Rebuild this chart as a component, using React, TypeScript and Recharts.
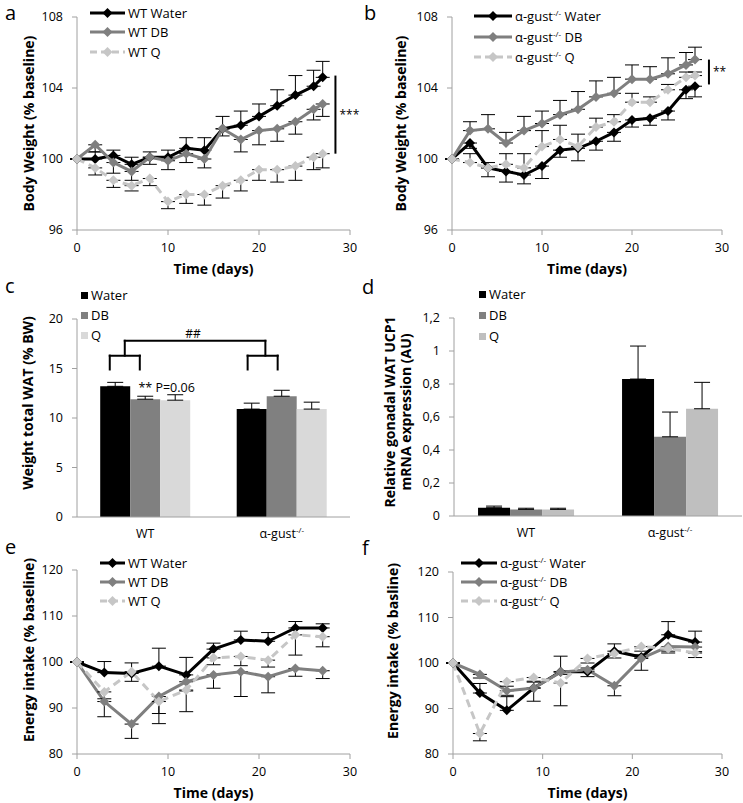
import React from 'react';
import {
  LineChart,
  Line,
  BarChart,
  Bar,
  XAxis,
  YAxis,
  ErrorBar,
  Legend,
  ReferenceLine,
  ReferenceDot,
} from 'recharts';

const FONT = '"Open Sans", "Noto Sans", sans-serif';
const AXIS = '#a0a0a0';
const BLACK = '#000000';
const GREY = '#7f7f7f';
const LIGHT = '#c6c6c6';

// body weight, panels a and b
const bwDays = [0, 2, 4, 6, 8, 10, 12, 14, 16, 18, 20, 22, 24, 26, 27];
const wtWaterBW = [100, 100, 100.2, 99.7, 100.1, 100.1, 100.6, 100.5, 101.7, 101.9, 102.4, 103.0, 103.6, 104.1, 104.6];
const wtWaterBWErr = [0, 0.4, 0.3, 0.4, 0.3, 0.4, 0.6, 0.7, 0.7, 0.8, 0.7, 0.9, 1.1, 0.9, 0.9];
const wtDBBW = [100, 100.8, 99.8, 99.3, 100.1, 99.9, 100.3, 100.0, 101.7, 101.1, 101.6, 101.7, 102.1, 102.8, 103.1];
const wtDBBWErr = [0, 0.4, 0.6, 0.5, 0.4, 0.5, 0.5, 0.5, 0.4, 0.7, 0.8, 0.7, 0.7, 0.6, 0.7];
const wtQBW = [100, 99.5, 98.8, 98.5, 98.9, 97.6, 98.0, 98.0, 98.5, 98.8, 99.4, 99.4, 99.6, 100.1, 100.3];
const wtQBWErr = [0, 0.4, 0.4, 0.3, 0.4, 0.4, 0.5, 0.6, 0.7, 0.6, 0.6, 0.7, 0.8, 0.7, 0.8];

const koWaterBW = [100, 100.9, 99.5, 99.3, 99.1, 99.6, 100.5, 100.6, 101.0, 101.5, 102.2, 102.3, 102.7, 103.9, 104.1];
const koWaterBWErr = [0, 0.3, 0.5, 0.6, 0.5, 0.7, 0.4, 0.7, 0.5, 0.5, 0.4, 0.4, 0.5, 0.5, 0.6];
const koDBBW = [100, 101.6, 101.7, 100.9, 101.6, 102.0, 102.5, 102.8, 103.5, 103.7, 104.5, 104.5, 104.8, 105.3, 105.6];
const koDBBWErr = [0, 0.5, 0.8, 0.6, 0.8, 0.7, 0.8, 1.0, 0.9, 0.9, 0.8, 0.7, 0.9, 0.7, 0.7];
const koQBW = [100, 99.8, 99.5, 99.7, 99.5, 100.7, 101.1, 100.7, 101.8, 102.1, 103.2, 103.2, 103.9, 104.6, 104.7];
const koQBWErr = [0, 0.5, 0.3, 0.6, 0.8, 0.9, 0.8, 0.7, 0.5, 0.4, 0.5, 0.3, 0.3, 0.3, 0.2];

// fat pad weight (c) and UCP1 expression (d)
const genotypes = ['WT', 'α-gust-/-'];
const watWater = [13.2, 10.9];
const watWaterErr = [0.4, 0.6];
const watDB = [11.9, 12.2];
const watDBErr = [0.3, 0.6];
const watQ = [11.8, 10.9];
const watQErr = [0.55, 0.7];

const ucpWater = [0.05, 0.83];
const ucpWaterErr = [0.01, 0.2];
const ucpDB = [0.04, 0.48];
const ucpDBErr = [0.007, 0.15];
const ucpQ = [0.04, 0.65];
const ucpQErr = [0.007, 0.16];

// energy intake, panels e and f
const eiDays = [0, 3, 6, 9, 12, 15, 18, 21, 24, 27];
const wtWaterEI = [100, 97.7, 97.5, 99.1, 97.2, 102.8, 104.8, 104.5, 107.4, 107.4];
const wtWaterEIErr = [0, 2.4, 2.3, 3.9, 3.8, 1.3, 1.9, 1.9, 1.4, 0.9];
const wtDBEI = [100, 91.4, 86.5, 92.5, 95.7, 97.2, 97.9, 96.8, 98.6, 98.1];
const wtDBEIErr = [0, 3.3, 3.1, 3.7, 2.0, 2.9, 5.4, 3.5, 1.7, 1.7];
const wtQEI = [100, 93.5, 97.9, 91.4, 93.9, 100.9, 101.2, 100.4, 105.9, 105.5];
const wtQEIErr = [0, 1.5, 2.1, 4.8, 4.7, 1.5, 2.0, 1.5, 4.4, 2.2];

const koWaterEI = [100, 93.4, 89.6, 94.5, 98.1, 98.1, 102.6, 101.3, 106.2, 104.6];
const koWaterEIErr = [0, 2.1, 3.0, 1.5, 3.4, 0.8, 1.6, 0.5, 2.9, 2.4];
const koDBEI = [100, 97.5, 93.9, 94.5, 98.0, 98.5, 95.0, 101.0, 103.6, 103.5];
const koDBEIErr = [0, 0.8, 1.0, 2.9, 0.5, 1.5, 2.2, 2.6, 1.0, 1.0];
const koQEI = [100, 84.5, 95.9, 96.8, 95.6, 101.0, 102.1, 103.6, 103.2, 102.2];
const koQEIErr = [0, 1.6, 1.0, 1.0, 5.0, 1.0, 1.0, 1.0, 1.0, 1.0];

// bracket annotation of panel c (hidden 0..2 axis, % BW)
const bracketGroups = [
  { from: 0.24, to: 0.46, mid: 0.35 },
  { from: 1.25, to: 1.47, mid: 1.38 },
];
const bracketLeg = 14.9;
const bracketArm = 16.3;
const bracketTop = 17.8;

type Series = {
  key: string;
  name: string;
  values: number[];
  err: number[];
  errUp: boolean;
  color: string;
  dashed?: boolean;
};

function rowsFor(x: number[], series: Series[]) {
  return x.map((d, i) => {
    const row: Record<string, any> = { day: d };
    series.forEach((s) => {
      row[s.key] = s.values[i];
      row[s.key + 'Err'] = s.errUp ? [0, s.err[i]] : [s.err[i], 0];
    });
    return row;
  });
}

function withSup(text: string) {
  const parts = text.split('-/-');
  if (parts.length < 2) return text;
  return (
    <>
      {parts[0]}
      <sup style={{ fontSize: 8, lineHeight: 0 }}>-/-</sup>
      {parts[1]}
    </>
  );
}

const diamondDot = (color: string) => (props: any) => {
  const { cx, cy, index } = props;
  if (cx == null || cy == null) return <g key={index} />;
  const s = 5;
  return (
    <path
      key={index}
      d={`M${cx},${cy - s}L${cx + s},${cy}L${cx},${cy + s}L${cx - s},${cy}Z`}
      fill={color}
    />
  );
};

const yTitle = (lines: string[], dx: number, dy: number) => (p: any) => {
  const vb = p.viewBox;
  const cy = vb.y + vb.height / 2 + dy;
  return (
    <g>
      {lines.map((t, i) => {
        const cx = vb.x + dx + i * 16;
        return (
          <text
            key={i}
            x={cx}
            y={cy}
            transform={`rotate(-90 ${cx} ${cy})`}
            textAnchor="middle"
            dominantBaseline="central"
            fontWeight="bold"
            fontSize={14}
            fontFamily={FONT}
            fill="#000"
          >
            {t}
          </text>
        );
      })}
    </g>
  );
};

const xTitle = (text: string) => (p: any) => {
  const vb = p.viewBox;
  return (
    <text
      x={vb.x + vb.width / 2}
      y={vb.y + 38}
      textAnchor="middle"
      dominantBaseline="central"
      fontWeight="bold"
      fontSize={14}
      fontFamily={FONT}
      fill="#000"
    >
      {text}
    </text>
  );
};

const CatTick = (p: any) => {
  const { x, y, payload } = p;
  const parts = String(payload.value).split('-/-');
  return (
    <text x={x} y={y} dy="0.71em" textAnchor="middle" fontSize={12.5} fontFamily={FONT} fill="#000">
      {parts[0]}
      {parts.length > 1 && (
        <tspan dy={-5} fontSize={8}>
          -/-
        </tspan>
      )}
    </text>
  );
};

const tickStyle = { fill: '#000', fontSize: 12.5, fontFamily: FONT };

function LineLegend({ series, lineW, rowH }: { series: Series[]; lineW: number; rowH: number }) {
  return (
    <div style={{ fontFamily: FONT, fontSize: 13, color: '#000' }}>
      {series.map((s) => (
        <div key={s.key} style={{ display: 'flex', alignItems: 'center', height: rowH, whiteSpace: 'nowrap' }}>
          <svg width={lineW} height={12} style={{ marginRight: 3 }}>
            <line
              x1={0}
              x2={lineW}
              y1={6}
              y2={6}
              stroke={s.color}
              strokeWidth={3}
              strokeDasharray={s.dashed ? '7 4' : undefined}
            />
            <path
              d={`M${lineW / 2},1L${lineW / 2 + 5},6L${lineW / 2},11L${lineW / 2 - 5},6Z`}
              fill={s.color}
            />
          </svg>
          <span>{withSup(s.name)}</span>
        </div>
      ))}
    </div>
  );
}

function BarLegend({ items, rowH }: { items: { name: string; color: string }[]; rowH: number }) {
  return (
    <div style={{ fontFamily: FONT, fontSize: 13, color: '#000' }}>
      {items.map((it) => (
        <div key={it.name} style={{ display: 'flex', alignItems: 'center', height: rowH }}>
          <span style={{ width: 7, height: 7, background: it.color, marginRight: 3 }} />
          <span>{it.name}</span>
        </div>
      ))}
    </div>
  );
}

type LinePanelProps = {
  left: number;
  top: number;
  width: number;
  height: number;
  margin: { top: number; right: number; bottom: number; left: number };
  yWidth: number;
  xHeight: number;
  domain: [number, number];
  ticks: number[];
  title: string;
  titleX: number;
  titleDy: number;
  days: number[];
  series: Series[];
  legend: { left: number; top: number; lineW: number; rowH: number };
  sig?: { x: number; top: number; bottom: number; text: string };
};

function LinePanel(p: LinePanelProps) {
  const data = rowsFor(p.days, p.series);
  return (
    <div style={{ position: 'absolute', left: p.left, top: p.top }}>
      <LineChart width={p.width} height={p.height} data={data} margin={p.margin}>
        <XAxis
          dataKey="day"
          type="number"
          domain={[0, 30]}
          ticks={[0, 10, 20, 30]}
          stroke={AXIS}
          tick={tickStyle}
          tickSize={5}
          tickMargin={8}
          height={p.xHeight}
          label={xTitle('Time (days)')}
        />
        <YAxis
          domain={p.domain}
          ticks={p.ticks}
          interval={0}
          allowDataOverflow
          stroke={AXIS}
          tick={tickStyle}
          tickSize={5}
          tickMargin={9}
          width={p.yWidth}
          label={yTitle([p.title], p.titleX, p.titleDy)}
        />
        <Legend
          layout="vertical"
          align="center"
          verticalAlign="middle"
          wrapperStyle={{ left: p.legend.left, top: p.legend.top, width: 'auto' }}
          content={() => <LineLegend series={p.series} lineW={p.legend.lineW} rowH={p.legend.rowH} />}
        />
        {p.series.map((s) => (
          <Line
            key={s.key}
            dataKey={s.key}
            name={s.name}
            type="linear"
            stroke={s.color}
            strokeWidth={3}
            strokeDasharray={s.dashed ? '8 5' : undefined}
            dot={diamondDot(s.color)}
            activeDot={false}
            isAnimationActive={false}
          >
            <ErrorBar dataKey={s.key + 'Err'} width={7} stroke="#000" strokeWidth={1} direction="y" isAnimationActive={false} />
          </Line>
        ))}
        {p.sig && (
          <ReferenceLine
            segment={[
              { x: p.sig.x, y: p.sig.top },
              { x: p.sig.x, y: p.sig.bottom },
            ]}
            stroke="#000"
            strokeWidth={2}
            label={{ value: p.sig.text, position: 'right', offset: 4, fontSize: 12, fill: '#000', fontFamily: FONT }}
          />
        )}
      </LineChart>
    </div>
  );
}

const wtBWSeries: Series[] = [
  { key: 'water', name: 'WT Water', values: wtWaterBW, err: wtWaterBWErr, errUp: true, color: BLACK },
  { key: 'db', name: 'WT DB', values: wtDBBW, err: wtDBBWErr, errUp: false, color: GREY },
  { key: 'q', name: 'WT Q', values: wtQBW, err: wtQBWErr, errUp: false, color: LIGHT, dashed: true },
];
const koBWSeries: Series[] = [
  { key: 'water', name: 'α-gust-/- Water', values: koWaterBW, err: koWaterBWErr, errUp: false, color: BLACK },
  { key: 'db', name: 'α-gust-/- DB', values: koDBBW, err: koDBBWErr, errUp: true, color: GREY },
  { key: 'q', name: 'α-gust-/- Q', values: koQBW, err: koQBWErr, errUp: true, color: LIGHT, dashed: true },
];
const wtEISeries: Series[] = [
  { key: 'water', name: 'WT Water', values: wtWaterEI, err: wtWaterEIErr, errUp: true, color: BLACK },
  { key: 'db', name: 'WT DB', values: wtDBEI, err: wtDBEIErr, errUp: false, color: GREY },
  { key: 'q', name: 'WT Q', values: wtQEI, err: wtQEIErr, errUp: false, color: LIGHT, dashed: true },
];
const koEISeries: Series[] = [
  { key: 'water', name: 'α-gust-/- Water', values: koWaterEI, err: koWaterEIErr, errUp: true, color: BLACK },
  { key: 'db', name: 'α-gust-/- DB', values: koDBEI, err: koDBEIErr, errUp: false, color: GREY },
  { key: 'q', name: 'α-gust-/- Q', values: koQEI, err: koQEIErr, errUp: false, color: LIGHT, dashed: true },
];

function barRows(water: number[], waterErr: number[], db: number[], dbErr: number[], q: number[], qErr: number[]) {
  return genotypes.map((g, i) => ({
    cat: g,
    // centre of the category on a 0..2 numeric scale, used by the annotation axis
    slot: i + 0.5,
    water: water[i],
    waterErr: [0, waterErr[i]],
    db: db[i],
    dbErr: [0, dbErr[i]],
    q: q[i],
    qErr: [0, qErr[i]],
  }));
}

function FatPanel() {
  const data = barRows(watWater, watWaterErr, watDB, watDBErr, watQ, watQErr);
  const items = [
    { key: 'water', name: 'Water', color: BLACK },
    { key: 'db', name: 'DB', color: '#808080' },
    { key: 'q', name: 'Q', color: '#d9d9d9' },
  ];
  const br = { stroke: '#000', strokeWidth: 2, xAxisId: 'n', strokeLinecap: 'square' as const };
  return (
    <div style={{ position: 'absolute', left: 0, top: 270 }}>
      <BarChart width={372} height={275} data={data} margin={{ top: 49, right: 22, bottom: 0, left: 0 }} barCategoryGap="17%" barGap={0}>
        <XAxis dataKey="cat" stroke={AXIS} tick={CatTick} tickLine={false} tickSize={0} tickMargin={12} height={28} interval={0} />
        <XAxis xAxisId="n" dataKey="slot" type="number" domain={[0, 2]} allowDataOverflow hide />
        <YAxis
          domain={[0, 20]}
          ticks={[0, 5, 10, 15, 20]}
          interval={0}
          stroke={AXIS}
          tick={tickStyle}
          tickSize={5}
          tickMargin={9}
          width={77}
          label={yTitle(['Weight total WAT (% BW)'], 27, -15)}
        />
        <Legend
          layout="vertical"
          align="center"
          verticalAlign="middle"
          wrapperStyle={{ left: 81, top: 15, width: 'auto' }}
          content={() => <BarLegend items={items} rowH={20} />}
        />
        {items.map((it) => (
          <Bar key={it.key} dataKey={it.key} fill={it.color} isAnimationActive={false}>
            <ErrorBar dataKey={it.key + 'Err'} width={8} stroke="#000" strokeWidth={1} direction="y" isAnimationActive={false} />
          </Bar>
        ))}
        {bracketGroups.map((b, i) => (
          <React.Fragment key={i}>
            <ReferenceLine {...br} segment={[{ x: b.from, y: bracketLeg }, { x: b.from, y: bracketArm }]} />
            <ReferenceLine {...br} segment={[{ x: b.to, y: bracketLeg }, { x: b.to, y: bracketArm }]} />
            <ReferenceLine {...br} segment={[{ x: b.from, y: bracketArm }, { x: b.to, y: bracketArm }]} />
            <ReferenceLine {...br} segment={[{ x: b.mid, y: bracketArm }, { x: b.mid, y: bracketTop }]} />
          </React.Fragment>
        ))}
        <ReferenceLine
          {...br}
          segment={[
            { x: bracketGroups[0].mid, y: bracketTop },
            { x: bracketGroups[1].mid, y: bracketTop },
          ]}
        />
        <ReferenceDot
          xAxisId="n"
          x={0.85}
          y={18.55}
          r={0}
          fill="none"
          stroke="none"
          label={{ value: '##', position: 'center', fontSize: 12, fill: '#000', fontFamily: FONT }}
        />
        <ReferenceDot
          xAxisId="n"
          x={0.45}
          y={13.1}
          r={0}
          fill="none"
          stroke="none"
          label={{ value: '** P=0.06', position: 'right', offset: 0, fontSize: 12.5, fill: '#000', fontFamily: FONT }}
        />
      </BarChart>
    </div>
  );
}

function UcpPanel() {
  const data = barRows(ucpWater, ucpWaterErr, ucpDB, ucpDBErr, ucpQ, ucpQErr);
  const items = [
    { key: 'water', name: 'Water', color: BLACK },
    { key: 'db', name: 'DB', color: '#808080' },
    { key: 'q', name: 'Q', color: '#bfbfbf' },
  ];
  return (
    <div style={{ position: 'absolute', left: 372, top: 270 }}>
      <BarChart width={371} height={275} data={data} margin={{ top: 48, right: 1, bottom: 0, left: 0 }} barCategoryGap="16.7%" barGap={0}>
        <XAxis dataKey="cat" stroke={AXIS} tick={CatTick} tickLine={false} tickSize={0} tickMargin={12} height={29} interval={0} />
        <YAxis
          domain={[0, 1.2]}
          ticks={[0, 0.2, 0.4, 0.6, 0.8, 1, 1.2]}
          interval={0}
          stroke={AXIS}
          tick={tickStyle}
          tickSize={5}
          tickMargin={9}
          tickFormatter={(v: number) => String(v).replace('.', ',')}
          width={82}
          label={yTitle(['Relative gonadal WAT UCP1', 'mRNA expression (AU)'], 17, -5)}
        />
        <Legend
          layout="vertical"
          align="center"
          verticalAlign="middle"
          wrapperStyle={{ left: 107, top: 13.5, width: 'auto' }}
          content={() => <BarLegend items={items} rowH={21} />}
        />
        {items.map((it) => (
          <Bar key={it.key} dataKey={it.key} fill={it.color} isAnimationActive={false}>
            <ErrorBar dataKey={it.key + 'Err'} width={8} stroke="#000" strokeWidth={1} direction="y" isAnimationActive={false} />
          </Bar>
        ))}
      </BarChart>
    </div>
  );
}

const panelLetters = [
  { t: 'a', x: 5, y: 3 },
  { t: 'b', x: 364, y: 3 },
  { t: 'c', x: 5, y: 276 },
  { t: 'd', x: 362, y: 277 },
  { t: 'e', x: 5, y: 537 },
  { t: 'f', x: 362, y: 538 },
];

export default function App() {
  return (
    <div style={{ position: 'relative', width: 743, height: 803, background: '#fff', fontFamily: FONT, overflow: 'hidden' }}>
      <style>{'body{margin:0}'}</style>
      <LinePanel
        left={0}
        top={0}
        width={372}
        height={280}
        margin={{ top: 17, right: 22, bottom: 0, left: 0 }}
        yWidth={77}
        xHeight={50}
        domain={[96, 108]}
        ticks={[96, 100, 104, 108]}
        title="Body Weight (% baseline)"
        titleX={28}
        titleDy={0}
        days={bwDays}
        series={wtBWSeries}
        legend={{ left: 90, top: 3, lineW: 35, rowH: 19.5 }}
        sig={{ x: 28.4, top: 104.7, bottom: 100.3, text: '***' }}
      />
      <LinePanel
        left={372}
        top={0}
        width={371}
        height={280}
        margin={{ top: 17, right: 21, bottom: 0, left: 0 }}
        yWidth={80}
        xHeight={50}
        domain={[96, 108]}
        ticks={[96, 100, 104, 108]}
        title="Body Weight (% baseline)"
        titleX={28}
        titleDy={0}
        days={bwDays}
        series={koBWSeries}
        legend={{ left: 102, top: 6, lineW: 38, rowH: 20.5 }}
        sig={{ x: 28.55, top: 105.6, bottom: 104.2, text: '**' }}
      />
      <FatPanel />
      <UcpPanel />
      <LinePanel
        left={0}
        top={540}
        width={372}
        height={263}
        margin={{ top: 30, right: 22, bottom: 0, left: 0 }}
        yWidth={77}
        xHeight={49}
        domain={[80, 120]}
        ticks={[80, 90, 100, 110, 120]}
        title="Energy intake (% baseline)"
        titleX={28}
        titleDy={-12}
        days={eiDays}
        series={wtEISeries}
        legend={{ left: 100, top: 13.5, lineW: 25, rowH: 19 }}
      />
      <LinePanel
        left={372}
        top={540}
        width={371}
        height={263}
        margin={{ top: 32, right: 21, bottom: 0, left: 0 }}
        yWidth={81}
        xHeight={49}
        domain={[80, 120]}
        ticks={[80, 90, 100, 110, 120]}
        title="Energy intake (% basline)"
        titleX={20}
        titleDy={-12}
        days={eiDays}
        series={koEISeries}
        legend={{ left: 89, top: 13.5, lineW: 36, rowH: 19 }}
      />
      {panelLetters.map((l) => (
        <div key={l.t} style={{ position: 'absolute', left: l.x, top: l.y, fontSize: 20, lineHeight: '20px', fontFamily: FONT }}>
          {l.t}
        </div>
      ))}
    </div>
  );
}
